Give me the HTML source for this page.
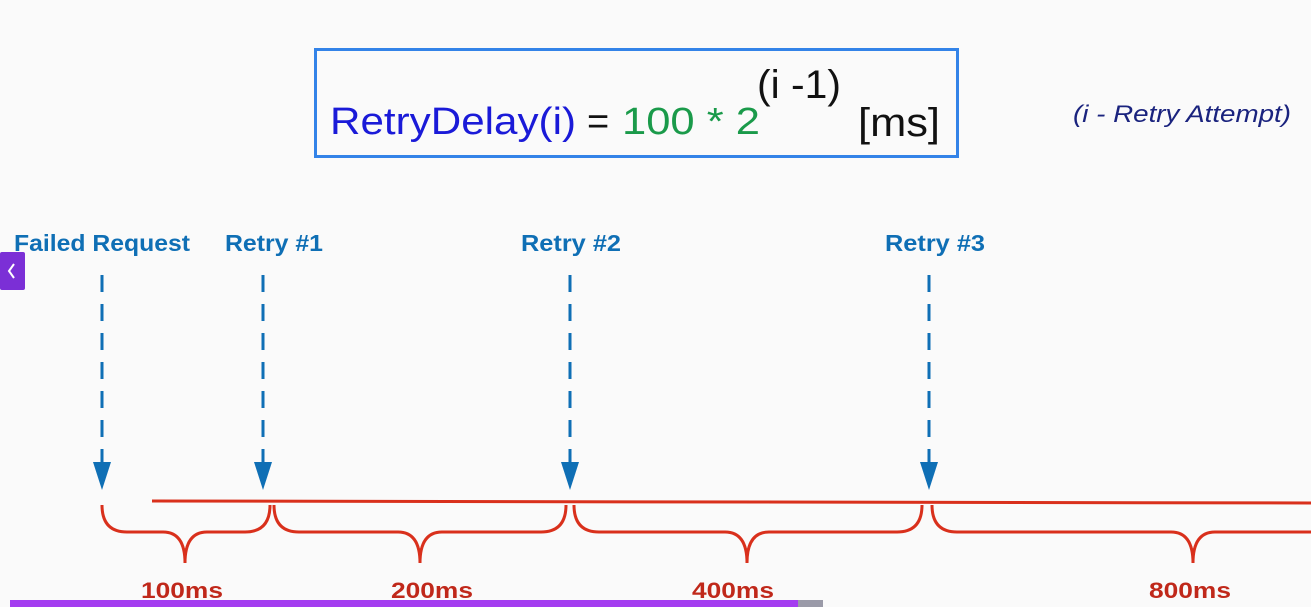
<!DOCTYPE html>
<html><head><meta charset="utf-8"><style>
html,body{margin:0;padding:0;background:#fafafa;width:1311px;height:607px;overflow:hidden;font-family:"Liberation Sans",sans-serif}
</style></head><body>
<svg width="1311" height="607" viewBox="0 0 1311 607">
<rect x="0" y="0" width="1311" height="607" fill="#fafafa"/>
<g>
<rect x="315.5" y="49.5" width="642" height="107" fill="none" stroke="#3383e8" stroke-width="3"/>
<text x="330" y="134" font-size="38" fill="#1a1ad8" textLength="246" lengthAdjust="spacingAndGlyphs">RetryDelay(i)</text>
<text x="587" y="134" font-size="38" fill="#111">=</text>
<text x="622" y="134" font-size="38" fill="#1a9a4a" textLength="138" lengthAdjust="spacingAndGlyphs">100 * 2</text>
<text x="757" y="98" font-size="40" fill="#111" textLength="84" lengthAdjust="spacingAndGlyphs">(i -1)</text>
<text x="858" y="136" font-size="40" fill="#111" textLength="82" lengthAdjust="spacingAndGlyphs">[ms]</text>
</g>
<text x="1073" y="122" font-size="24" font-style="italic" fill="#1a237e" textLength="218" lengthAdjust="spacingAndGlyphs">(i - Retry Attempt)</text>
<g id="chart"></g>
<rect x="0" y="252" width="25" height="38" rx="2" fill="#7b2fd6"/>
<path d="M14 264 L9 271 L14 278" fill="none" stroke="#fff" stroke-width="2"/>
<rect x="10" y="600" width="788" height="7" fill="#a43cf0"/>
<rect x="798" y="600" width="25" height="7" fill="#9a9aa8"/>
</svg>
<script>
const eventLabels=["Failed Request","Retry #1","Retry #2","Retry #3"];
const eventX=[102,263,570,929];
const delays=[100,200,400,800];
const ns="http://www.w3.org/2000/svg";
const g=document.getElementById("chart");
function mk(t,a){const e=document.createElementNS(ns,t);for(const k in a)e.setAttribute(k,a[k]);g.appendChild(e);return e;}
const labelW=[176,98,100,100];
const labelShift=[0,11,1,6];
eventLabels.forEach((lab,i)=>{
 const x=eventX[i];
 const t=mk("text",{x:x+labelShift[i],y:251,"font-size":23,"font-weight":"bold",fill:"#0f6fb5","text-anchor":"middle",textLength:labelW[i],lengthAdjust:"spacingAndGlyphs"});
 t.textContent=lab;
 
 
 const l=mk("line",{x1:x,y1:275,x2:x,y2:464,stroke:"#0f6fb5","stroke-width":3,"stroke-dasharray":"17 12"});
 
 
 const p=mk("path",{d:`M${x-9} 462 L${x+9} 462 L${x} 490 Z`,fill:"#0f6fb5"});
 
 
});
const base=mk("line",{x1:152,y1:501,x2:1311,y2:503,stroke:"#d9301c","stroke-width":3});


const braceStart=[102,274,574,932];
const braceEnd=[270,566,922,1345];
const braceTip=[185,420,747,1193];
const labelCenter=[182,432,733,1190];
delays.forEach((d,i)=>{
 const a=braceStart[i],b=braceEnd[i],m=braceTip[i];
 const p=mk("path",{d:`M${a} 505 Q${a} 532 ${a+25} 532 L${m-22} 532 Q${m} 532 ${m} 563 Q${m} 532 ${m+22} 532 L${b-25} 532 Q${b} 532 ${b} 505`,fill:"none",stroke:"#d9301c","stroke-width":3});
 
 
 const t=mk("text",{x:labelCenter[i],y:598,"font-size":22,"font-weight":"bold",fill:"#c0281a","text-anchor":"middle",textLength:82,lengthAdjust:"spacingAndGlyphs"});
 t.textContent=d+"ms";
 
 
});
</script>
</body></html>
